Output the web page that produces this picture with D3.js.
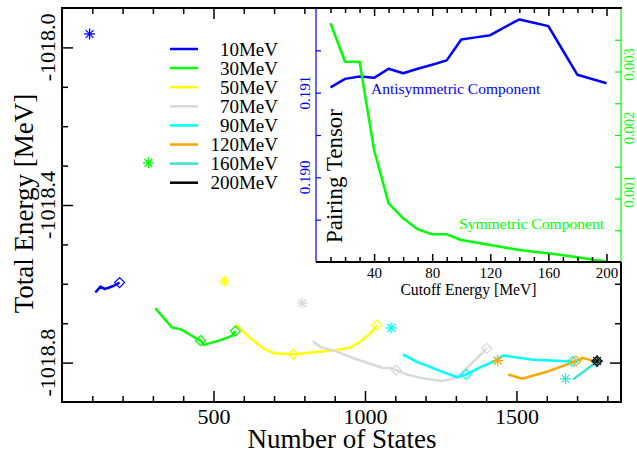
<!DOCTYPE html>
<html><head><meta charset="utf-8">
<script src="https://cdn.jsdelivr.net/npm/d3@7"></script>
<style>body{margin:0;background:#fff}svg{display:block}</style>
</head><body><svg id="c" width="637" height="455"></svg>
<script>
// ---------- data ----------
const cutoffLabels = ["10MeV","30MeV","50MeV","70MeV","90MeV","120MeV","160MeV","200MeV"];
const seriesColors = ["#0000ff","#00ff00","#ffff00","#d9d9d9","#00ffff","#ffa500","#40e0d0","#000000"];

const states10 = [110,127,140,154,171,190];
const energy10 = [-1018.622,-1018.607,-1018.613,-1018.610,-1018.605,-1018.597];
const states30 = [308,363,391,424,457,468,523,561,572];
const energy30 = [-1018.662,-1018.711,-1018.715,-1018.730,-1018.744,-1018.755,-1018.743,-1018.732,-1018.720];
const states50 = [572,622,665,698,764,830,907,951,984,1017,1039];
const energy50 = [-1018.703,-1018.738,-1018.764,-1018.776,-1018.779,-1018.774,-1018.768,-1018.762,-1018.747,-1018.726,-1018.705];
const states70 = [828,852,907,962,1017,1056,1083,1103,1138,1193,1254,1303,1336,1369,1402];
const energy70 = [-1018.745,-1018.760,-1018.772,-1018.789,-1018.803,-1018.813,-1018.814,-1018.819,-1018.830,-1018.840,-1018.847,-1018.838,-1018.814,-1018.789,-1018.764];
const states90 = [1125,1171,1241,1303,1334,1380,1435,1457,1556,1685];
const energy90 = [-1018.779,-1018.798,-1018.819,-1018.837,-1018.830,-1018.812,-1018.793,-1018.782,-1018.793,-1018.797];
const states120 = [1473,1518,1597,1670,1696,1719,1759];
const energy120 = [-1018.830,-1018.841,-1018.824,-1018.804,-1018.796,-1018.788,-1018.797];
const states160 = [1687,1720,1765];
const energy160 = [-1018.842,-1018.824,-1018.798];
const states200 = [1766];
const energy200 = [-1018.796];

const diamondStates = [[190],[457,572],[764,1039],[1103,1402],[1334,1685],[1696],[1765],[1766]];
const diamondEnergy = [[-1018.597],[-1018.744,-1018.720],[-1018.779,-1018.705],[-1018.819,-1018.764],[-1018.830,-1018.797],[-1018.796],[-1018.798],[-1018.796]];
const starStates = [91,285,536,793,1086,1438,1662,1766];
const starEnergy = [-1017.966,-1018.293,-1018.593,-1018.649,-1018.712,-1018.795,-1018.841,-1018.796];

const xMajorTicks = [500,1000,1500];
const yMajorTicks = [-1018.0,-1018.4,-1018.8];
const yTickLabels = ["-1018.0","-1018.4","-1018.8"];

// inset data
const cutoffEnergy = [10,20,30,40,50,60,70,80,90,100,110,120,130,140,150,160,170,180,190,200];
const antisymmetric = [0.191063,0.191163,0.191190,0.191175,0.191282,0.191230,0.191282,0.191330,0.191381,0.191627,0.191653,0.191679,0.191774,0.191865,0.191825,0.191786,0.191498,0.191211,0.191161,0.191111];
const symmetric = [0.003759,0.003154,0.003154,0.001764,0.000924,0.000688,0.000515,0.000436,0.000436,0.000346,0.000307,0.000268,0.000228,0.000189,0.000163,0.000137,0.000106,0.000074,0.000040,0.000005];
const insetXTicks = [40,80,120,160,200];
const insetLeftTicks = [0.190,0.191];
const insetLeftLabels = ["0.190","0.191"];
const insetRightTicks = [0.001,0.002,0.003];
const insetRightLabels = ["0.001","0.002","0.003"];

// ---------- drawing ----------
const serif = "'Liberation Serif','Times New Roman',serif";
const svg = d3.select("#c");
const L=62, R=621, T=8, B=402;
const x = d3.scaleLinear().domain([0,1845]).range([L,R]);
const y = d3.scaleLinear().domain([-1018.9,-1017.9]).range([B,T]);

const allStates = [states10,states30,states50,states70,states90,states120,states160,states200];
const allEnergy = [energy10,energy30,energy50,energy70,energy90,energy120,energy160,energy200];

const line = d3.line().x(d=>x(d[0])).y(d=>y(d[1]));
allStates.forEach((st,i)=>{
  const pts = st.map((n,j)=>[n,allEnergy[i][j]]);
  if(pts.length>1) svg.append("path").attr("d",line(pts)).attr("fill","none")
     .attr("stroke",seriesColors[i]).attr("stroke-width",2.5).attr("stroke-linejoin","round");
});
// diamonds
diamondStates.forEach((st,i)=>{
  st.forEach((n,j)=>{
    svg.append("path").attr("d",d3.symbol(d3.symbolSquare,50)())
      .attr("transform",`translate(${x(n)},${y(diamondEnergy[i][j])}) rotate(45)`)
      .attr("fill","none").attr("stroke",seriesColors[i]).attr("stroke-width",1.2);
  });
});
// stars
starStates.forEach((n,i)=>{
  const g = svg.append("g").attr("transform",`translate(${x(n)},${y(starEnergy[i])})`);
  [0,45,90,135].forEach(a=>{
    g.append("line").attr("x1",-5.5).attr("x2",5.5).attr("transform",`rotate(${a})`)
      .attr("stroke",seriesColors[i]).attr("stroke-width",1.3);
  });
});

// main axes
function styleAxis(g){ g.selectAll(".domain").remove(); g.selectAll(".tick line").attr("stroke","#000").attr("stroke-width",1.5); }
const xMinor = d3.range(100,1801,100).filter(v=>!xMajorTicks.includes(v));
const gxb = svg.append("g").attr("transform",`translate(0,${B})`);
gxb.append("g").call(d3.axisBottom(x).tickValues(xMinor).tickSize(-6).tickFormat("")).call(styleAxis);
gxb.append("g").call(d3.axisBottom(x).tickValues(xMajorTicks).tickSize(-11).tickPadding(6).tickFormat(d3.format("d"))).call(styleAxis)
  .selectAll("text").attr("font-family",serif).attr("font-size",22).attr("fill","#000").attr("dy","0.72em");
// top axis (left of inset)
const gxt = svg.append("g").attr("transform",`translate(0,${T})`);
gxt.append("g").call(d3.axisTop(x).tickValues(xMinor.filter(v=>v<=800)).tickSize(-6).tickFormat("")).call(styleAxis);
gxt.append("g").call(d3.axisTop(x).tickValues([500]).tickSize(-11).tickFormat("")).call(styleAxis);

const yMinor = d3.range(-1018.8,-1017.95,0.1).map(v=>+v.toFixed(1)).filter(v=>!yMajorTicks.includes(v));
const gyl = svg.append("g").attr("transform",`translate(${L},0)`);
gyl.append("g").call(d3.axisLeft(y).tickValues(yMinor).tickSize(-6).tickFormat("")).call(styleAxis);
gyl.append("g").call(d3.axisLeft(y).tickValues(yMajorTicks).tickSize(-11).tickFormat("")).call(styleAxis);
yMajorTicks.forEach((v,i)=>{
  svg.append("text").attr("transform",`translate(55,${y(v)}) rotate(-90)`).attr("text-anchor","middle")
    .attr("font-family",serif).attr("font-size",22).text(yTickLabels[i]);
});
const gyr = svg.append("g").attr("transform",`translate(${R},0)`);
gyr.append("g").call(d3.axisRight(y).tickValues(yMinor.filter(v=>v<-1018.55)).tickSize(-6).tickFormat("")).call(styleAxis);
gyr.append("g").call(d3.axisRight(y).tickValues([-1018.8]).tickSize(-11).tickFormat("")).call(styleAxis);

// frame
const frame = svg.append("g").attr("stroke","#000").attr("stroke-width",2).attr("fill","none");
frame.append("line").attr("x1",L).attr("x2",L).attr("y1",T-1).attr("y2",B+1);
frame.append("line").attr("x1",L-1).attr("x2",R+1).attr("y1",B).attr("y2",B);
frame.append("line").attr("x1",R).attr("x2",R).attr("y1",262).attr("y2",B+1);

// titles
svg.append("text").attr("x",342).attr("y",448).attr("text-anchor","middle").attr("font-family",serif)
  .attr("font-size",27).text("Number of States");
svg.append("text").attr("transform","translate(33,203.5) rotate(-90)").attr("text-anchor","middle")
  .attr("font-family",serif).attr("font-size",27).text("Total Energy [MeV]");

// legend
const leg = svg.append("g");
cutoffLabels.forEach((lab,i)=>{
  const yy = 49 + i*19.1;
  leg.append("line").attr("x1",170).attr("x2",198).attr("y1",yy).attr("y2",yy)
    .attr("stroke",seriesColors[i]).attr("stroke-width",2.5);
  leg.append("text").attr("x",278).attr("y",yy+6.5).attr("text-anchor","end")
    .attr("font-family",serif).attr("font-size",19).text(lab);
});

// ---------- inset ----------
const iL=316, iR=621, iT=8, iB=262;
const xi = d3.scaleLinear().domain([0,210]).range([iL,iR]);
const yl = d3.scaleLinear().domain([0.189,0.192]).range([iB,iT]);
const yr = d3.scaleLinear().domain([0,0.004]).range([iB,iT]);
svg.append("rect").attr("x",iL).attr("y",iT).attr("width",iR-iL).attr("height",iB-iT).attr("fill","#fff");

svg.append("path").attr("d",d3.line().x((d,i)=>xi(cutoffEnergy[i])).y(d=>yl(d))(antisymmetric))
  .attr("fill","none").attr("stroke","#0000ff").attr("stroke-width",2.5).attr("stroke-linejoin","round");
svg.append("path").attr("d",d3.line().x((d,i)=>xi(cutoffEnergy[i])).y(d=>yr(d))(symmetric))
  .attr("fill","none").attr("stroke","#00ff00").attr("stroke-width",2.5).attr("stroke-linejoin","round");

const ixMinor = d3.range(10,201,10).filter(v=>!insetXTicks.includes(v));
const gib = svg.append("g").attr("transform",`translate(0,${iB})`);
gib.append("g").call(d3.axisBottom(xi).tickValues(ixMinor).tickSize(-5).tickFormat("")).call(styleAxis);
gib.append("g").call(d3.axisBottom(xi).tickValues(insetXTicks).tickSize(-8).tickPadding(5).tickFormat(d3.format("d"))).call(styleAxis)
  .selectAll("text").attr("font-family",serif).attr("font-size",15).attr("fill","#000").attr("dy","0.72em");
const git = svg.append("g").attr("transform",`translate(0,${iT})`);
git.append("g").call(d3.axisTop(xi).tickValues(ixMinor).tickSize(-5).tickFormat("")).call(styleAxis);
git.append("g").call(d3.axisTop(xi).tickValues(insetXTicks).tickSize(-8).tickFormat("")).call(styleAxis);

const gil = svg.append("g").attr("transform",`translate(${iL},0)`);
gil.append("g").call(d3.axisLeft(yl).tickValues([0.1895,0.190,0.1905,0.191,0.1915]).tickSize(-5).tickFormat("")).call(styleAxis);
gil.selectAll(".tick line").attr("stroke","#0000ff").attr("stroke-width",1.2);
insetLeftTicks.forEach((v,i)=>{
  svg.append("text").attr("transform",`translate(310,${yl(v)}) rotate(-90)`).attr("text-anchor","middle")
    .attr("font-family",serif).attr("font-size",15).attr("fill","#0000ff").text(insetLeftLabels[i]);
});
const gir = svg.append("g").attr("transform",`translate(${iR},0)`);
gir.append("g").call(d3.axisRight(yr).tickValues([0.0005,0.001,0.0015,0.002,0.0025,0.003,0.0035]).tickSize(-6).tickFormat("")).call(styleAxis);
gir.selectAll(".tick line").attr("stroke","#00ff00").attr("stroke-width",1.2);
insetRightTicks.forEach((v,i)=>{
  svg.append("text").attr("transform",`translate(634,${yr(v)-7}) rotate(-90)`).attr("text-anchor","middle")
    .attr("font-family",serif).attr("font-size",14.5).attr("fill","#00ff00").text(insetRightLabels[i]);
});

// inset frame
svg.append("line").attr("x1",iL).attr("x2",iL).attr("y1",iT).attr("y2",iB).attr("stroke","#0000ff").attr("stroke-width",1.2);
svg.append("line").attr("x1",iR).attr("x2",iR).attr("y1",iT).attr("y2",iB).attr("stroke","#00ff00").attr("stroke-width",1.2);
svg.append("line").attr("x1",iL).attr("x2",iR).attr("y1",iB).attr("y2",iB).attr("stroke","#000").attr("stroke-width",2);
svg.append("line").attr("x1",L-1).attr("x2",iR+1).attr("y1",T).attr("y2",T).attr("stroke","#000").attr("stroke-width",2);

svg.append("text").attr("transform","translate(342,176) rotate(-90)").attr("text-anchor","middle")
  .attr("font-family",serif).attr("font-size",23).text("Pairing Tensor");
svg.append("text").attr("x",371).attr("y",93.5).attr("font-family",serif).attr("font-size",15.5)
  .attr("fill","#0000ff").text("Antisymmetric Component");
svg.append("text").attr("x",459).attr("y",228.5).attr("font-family",serif).attr("font-size",15.6)
  .attr("fill","#00ff00").text("Symmetric Component");
svg.append("text").attr("x",468.5).attr("y",295).attr("text-anchor","middle").attr("font-family",serif)
  .attr("font-size",15.7).text("Cutoff Energy [MeV]");
</script></body></html>
